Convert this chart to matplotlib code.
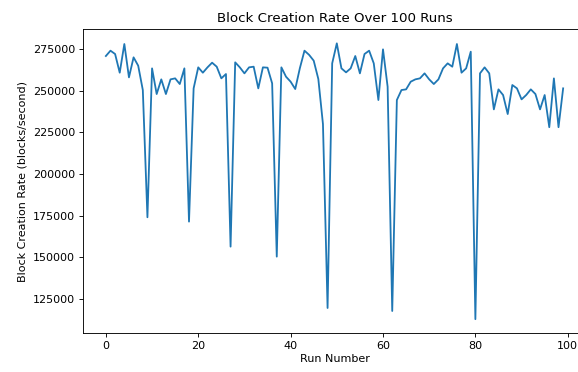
import numpy as np
import matplotlib.pyplot as plt

runs = list(range(100))
rates = [
    270800, 274000, 272000, 260800, 278000, 258000, 270000, 265000, 250400, 174100,
    263400, 248000, 256800, 248000, 256800, 257400, 254000, 263400, 171500, 251400,
    264000, 260800, 264000, 266800, 264400, 257400, 260000, 156500, 267000, 264000,
    260400, 264000, 264400, 251400, 264000, 263800, 254400, 150500, 264000, 258400,
    255400, 251000, 263500, 274000, 271500, 268000, 257000, 230000, 119700, 266400,
    278400, 263400, 261000, 263400, 270800, 260400, 272000, 274000, 266400, 244400,
    274800, 252400, 117900, 244400, 250400, 250800, 255400, 256800, 257400, 260400,
    256800, 254000, 256800, 263400, 266400, 264400, 278000, 260800, 263400, 273400,
    113000, 260400, 264000, 260400, 238800, 250800, 247400, 236000, 253400, 251400,
    244800, 247400, 250800, 248000, 238800, 247400, 228100, 257400, 228100, 251400,
]

fig = plt.figure(figsize=(5.78, 3.72), dpi=100)
# the reference is cropped on the right, so the axes run past the figure edge
ax = fig.add_axes([83 / 578, 1 - 333 / 372, (586 - 83) / 578, (333 - 29) / 372])
ax.plot(runs, rates, color='#1f77b4', linewidth=1.3)

ax.set_ylim(104700, 287000)
ax.set_xticks([0, 20, 40, 60, 80, 100])
ax.set_yticks([125000, 150000, 175000, 200000, 225000, 250000, 275000])
ax.set_title('Block Creation Rate Over 100 Runs', fontsize=9.6, pad=5)
ax.set_xlabel('Run Number', fontsize=8, labelpad=2)
ax.set_ylabel('Block Creation Rate (blocks/second)', fontsize=8, labelpad=4)
ax.tick_params(labelsize=8, length=2.8, width=0.64, pad=2.8)
for s in ax.spines.values():
    s.set_linewidth(0.64)

plt.savefig('out.png', dpi=100)
